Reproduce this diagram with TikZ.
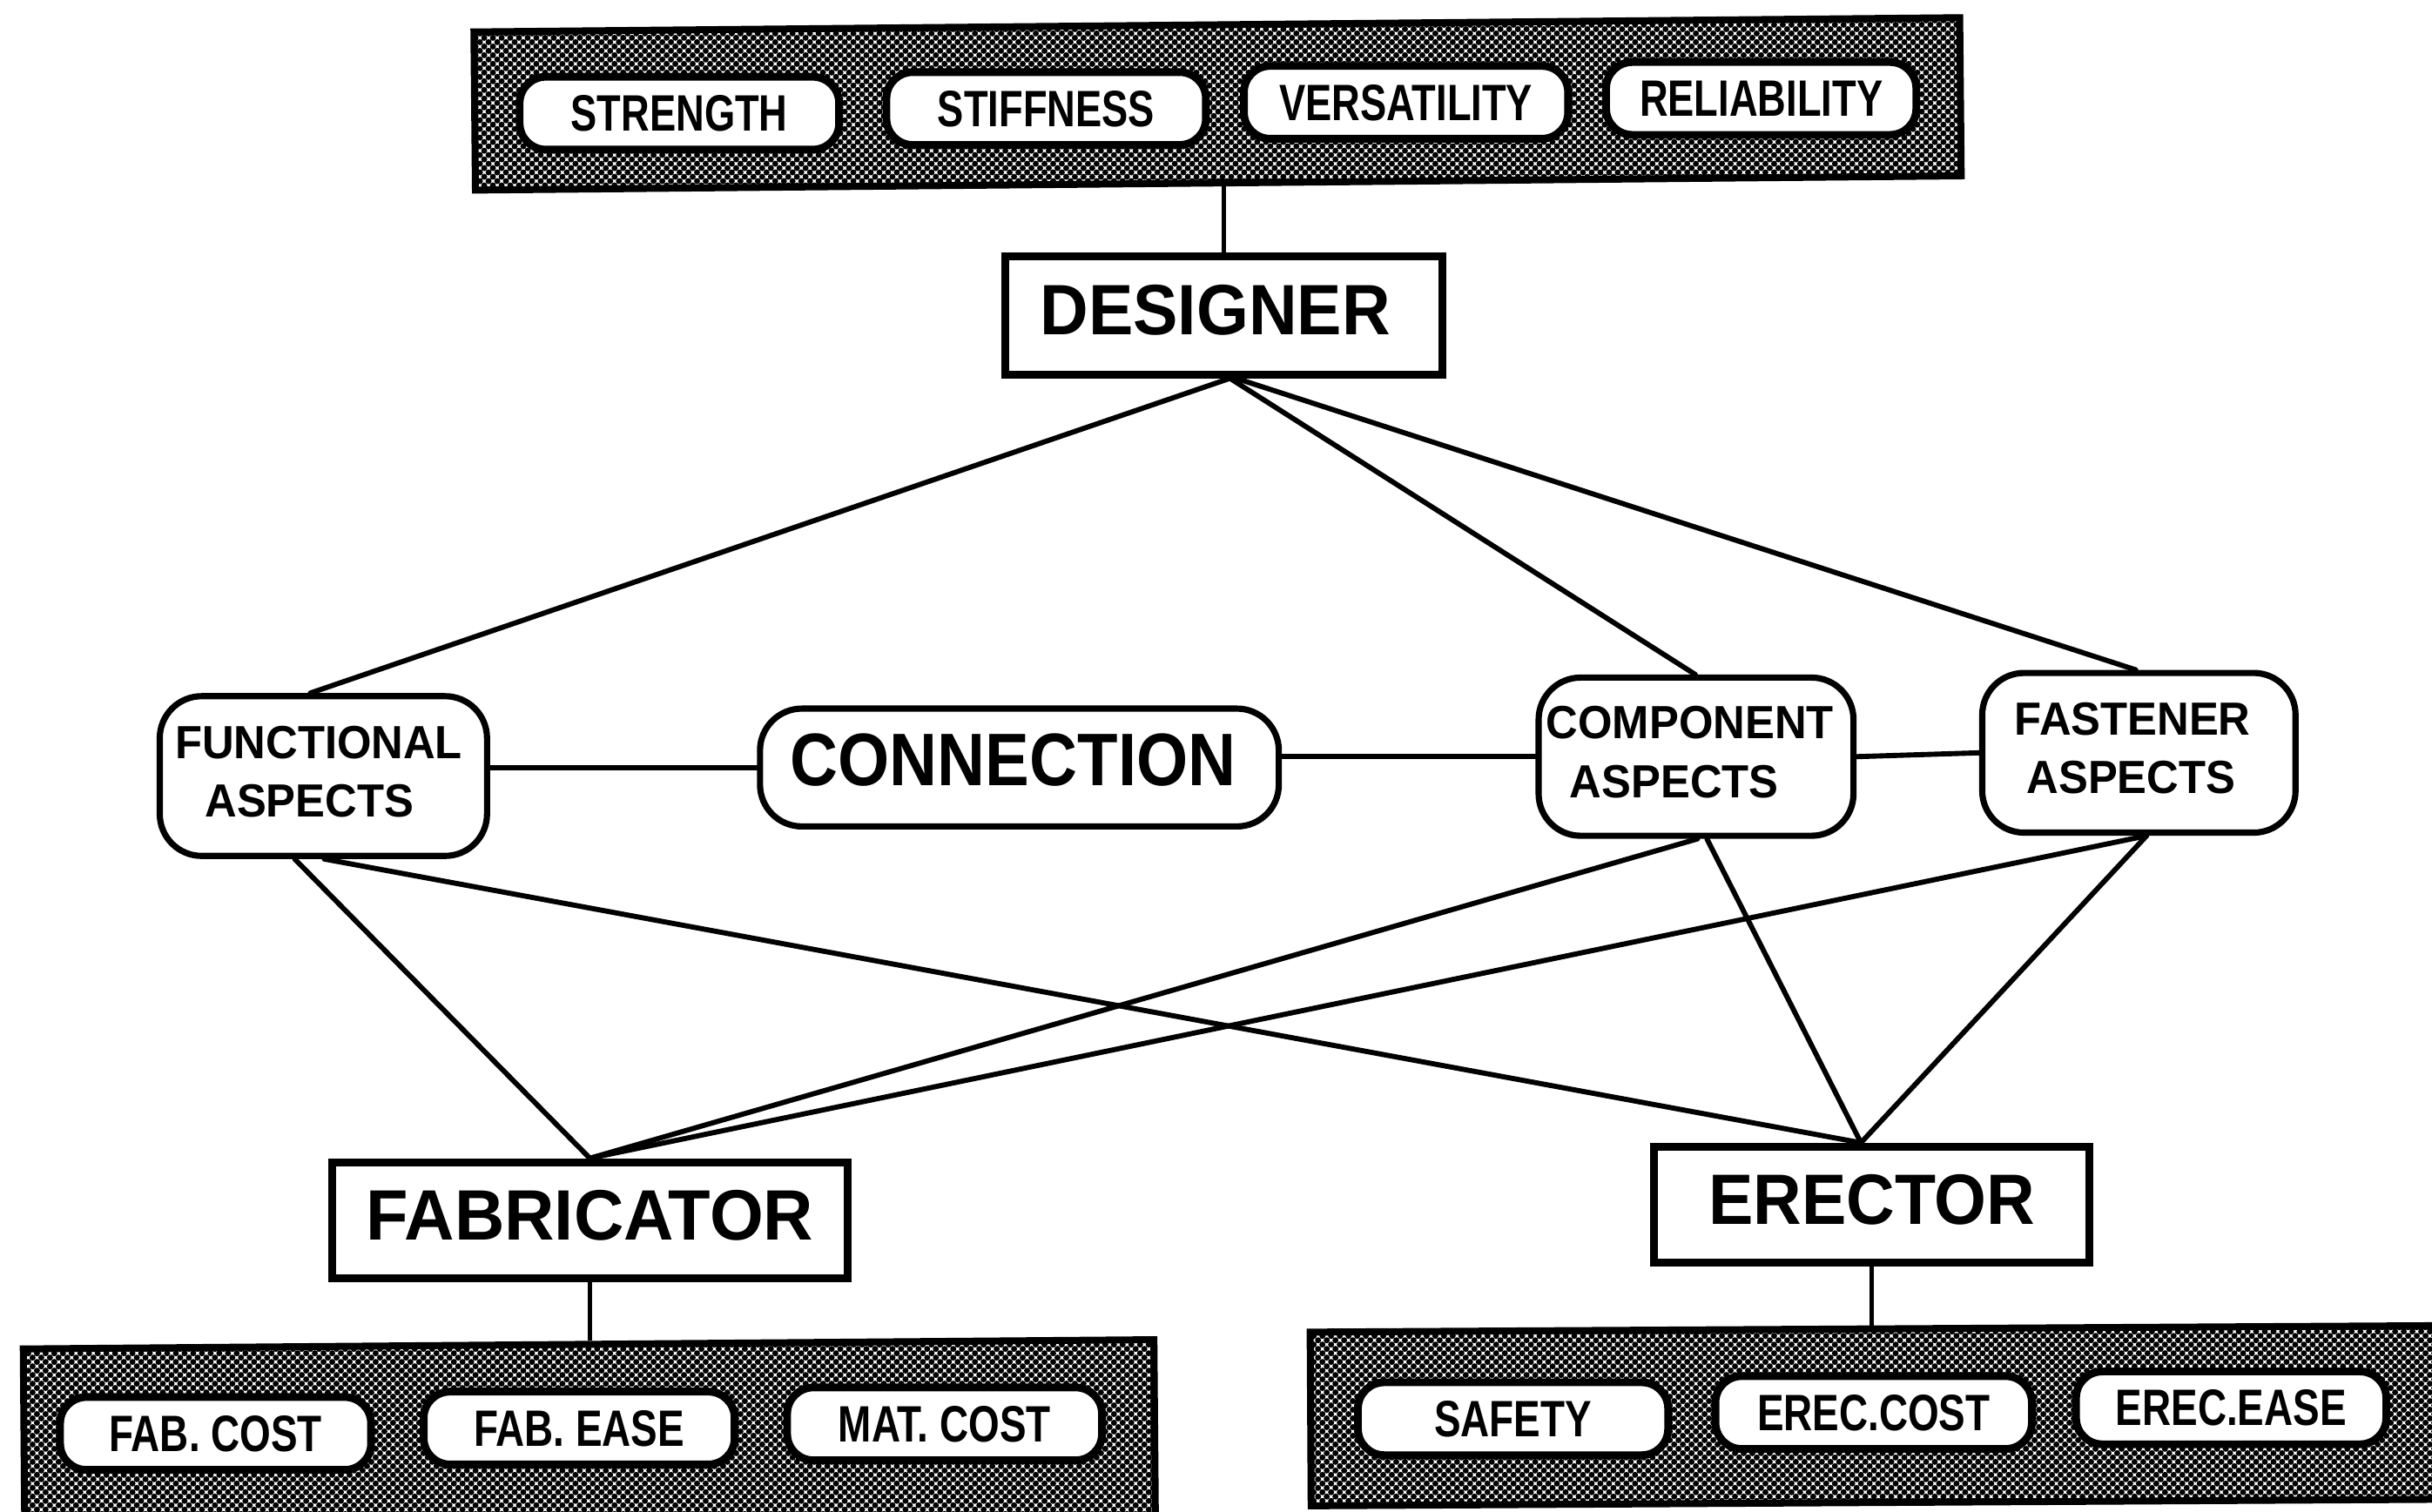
\documentclass[tikz,border=0pt]{standalone}
\usepackage{fontspec}
\setmainfont{Liberation Sans}
% condensed cuts of the same sans family
\newfontfamily\pillfontA[FakeStretch=0.77]{Liberation Sans}
\newfontfamily\pillfontB[FakeStretch=0.78]{Liberation Sans}
\newfontfamily\aspfont[FakeStretch=0.95]{Liberation Sans}
\newfontfamily\rolefont[FakeStretch=0.94]{Liberation Sans}
\newfontfamily\hubfont[FakeStretch=0.89]{Liberation Sans}
\usetikzlibrary{patterns}

% halftone screen used in the criteria bars
\pgfdeclarepatternformonly{halftone}{\pgfqpoint{-0.6pt}{-0.6pt}}{\pgfqpoint{6.2pt}{6.2pt}}{\pgfqpoint{5.6pt}{5.6pt}}{%
  \pgfpathcircle{\pgfqpoint{1.4pt}{1.4pt}}{1.95pt}%
  \pgfpathcircle{\pgfqpoint{4.2pt}{4.2pt}}{1.95pt}%
  \pgfusepath{fill}}

\begin{document}
\begin{tikzpicture}[x=1pt,y=-1pt,
  link/.style={line width=3.3pt, line cap=round},
  stem/.style={line width=2.8pt},
  bar/.style={draw, line width=4.5pt, pattern=halftone, pattern color=black, inner sep=0pt},
  pill/.style={draw, fill=white, line width=5pt, rounded corners=17pt,
    minimum width=#1, minimum height=47pt, inner sep=0pt, text depth=0pt},
  toppill/.style={pill=#1, font=\pillfontA\bfseries\fontsize{33}{33}\selectfont},
  lowpill/.style={pill=#1, font=\pillfontB\bfseries\fontsize{33}{33}\selectfont},
  role/.style={draw, fill=white, line width=5pt, inner sep=0pt, text depth=7pt,
    font=\rolefont\bfseries\fontsize{46}{46}\selectfont},
  aspect/.style={draw, fill=white, line width=4pt, rounded corners=27pt, inner sep=0pt,
    align=center, text depth=6pt, font=\aspfont\bfseries\fontsize{30}{38}\selectfont},
  hub/.style={draw, fill=white, line width=4pt, rounded corners=27pt, inner sep=0pt,
    text depth=10pt, font=\hubfont\bfseries\fontsize{48}{48}\selectfont}
]
\useasboundingbox (0,0) rectangle (1568,975);
\clip (0,0) rectangle (1568,975);
\fill[white] (0,0) rectangle (1568,975);

% designer's criteria
\node[bar, minimum width=958pt, minimum height=102pt, rotate=0.55] (qualities) at (785,67) {};
\node[toppill=206pt] (strength) at (438,73) {STRENGTH};
\node[toppill=206pt] (stiffness) at (674.5,70) {STIFFNESS};
\node[toppill=209pt] (versatility) at (906.5,66) {VERSATILITY};
\node[toppill=200pt] (reliability) at (1135.5,63.5) {RELIABILITY};

% parties
\node[role, minimum width=282pt, minimum height=76pt] (designer) at (789,203.5) {DESIGNER\kern11pt};
\node[role, minimum width=332pt, minimum height=75pt, font=\addfontfeature{FakeStretch=0.97}\bfseries\fontsize{46}{46}\selectfont] (fabricator) at (380.3,787) {FABRICATOR};
\node[role, minimum width=281pt, minimum height=75pt] (erector) at (1206.8,777) {ERECTOR};

% aspects of the connection
\node[aspect, minimum width=211pt, minimum height=103pt] (functional) at (208.5,500.5) {FUNCTIONAL\kern6pt\\ASPECTS\kern18pt};
\node[hub, minimum width=334.5pt, minimum height=76pt] (connection) at (657.25,495) {CONNECTION\kern8pt};
\node[aspect, minimum width=203pt, minimum height=102pt] (component) at (1093.5,488) {COMPONENT\kern8pt\\ASPECTS\kern28pt};
\node[aspect, minimum width=202pt, minimum height=103pt] (fastener) at (1379,485.5) {FASTENER\kern8pt\\ASPECTS\kern10pt};

% fabricator's and erector's criteria
\node[bar, minimum width=729pt, minimum height=126pt, rotate=0.47] (fabcrit) at (380,930) {};
\node[lowpill=200.5pt] (fabcost) at (139,924.5) {FAB. COST};
\node[lowpill=200.5pt] (fabease) at (373.4,921) {FAB. EASE};
\node[lowpill=203pt] (matcost) at (609,918.3) {MAT. COST};

\node[bar, minimum width=743pt, minimum height=112pt, rotate=0.33] (ereccrit) at (1216.5,913) {};
\node[lowpill=200pt] (safety) at (975.5,915) {SAFETY};
\node[lowpill=204pt] (ereccost) at (1208,911) {EREC.COST};
\node[lowpill=200pt] (erecease) at (1438.5,908) {EREC.EASE};

% stems to the criteria bars
\draw[stem] (designer.north) -- (designer.north |- qualities.south);
\draw[stem] (fabricator.south) -- (fabricator.south |- fabcrit.north);
\draw[stem] (erector.south) -- (erector.south |- ereccrit.north);

% designer to aspects
\draw[link] ([xshift=4pt]designer.south) -- ([xshift=-8.5pt]functional.north);
\draw[link] ([xshift=4pt]designer.south) -- ([xshift=-0.5pt]component.north);
\draw[link] ([xshift=8pt]designer.south) -- ([xshift=-2pt]fastener.north);

% chain through the connection
\draw[link] (connection.west -| functional.east) -- (connection.west);
\draw[link] (component.west -| connection.east) -- (component.west);
\draw[link] (component.east) -- (fastener.east -| fastener.west);

% aspects to fabricator and erector
\draw[link] ([xshift=-18.5pt]functional.south) -- (fabricator.north);
\draw[link] ([xshift=0.5pt]functional.south) -- ([xshift=-7pt]erector.north);
\draw[link] ([xshift=1pt]component.south) -- (fabricator.north);
\draw[link] ([xshift=7pt]component.south) -- ([xshift=-7pt]erector.north);
\draw[link] ([xshift=5pt]fastener.south) -- (fabricator.north);
\draw[link] ([xshift=5pt]fastener.south) -- ([xshift=-7pt]erector.north);
\end{tikzpicture}
\end{document}
